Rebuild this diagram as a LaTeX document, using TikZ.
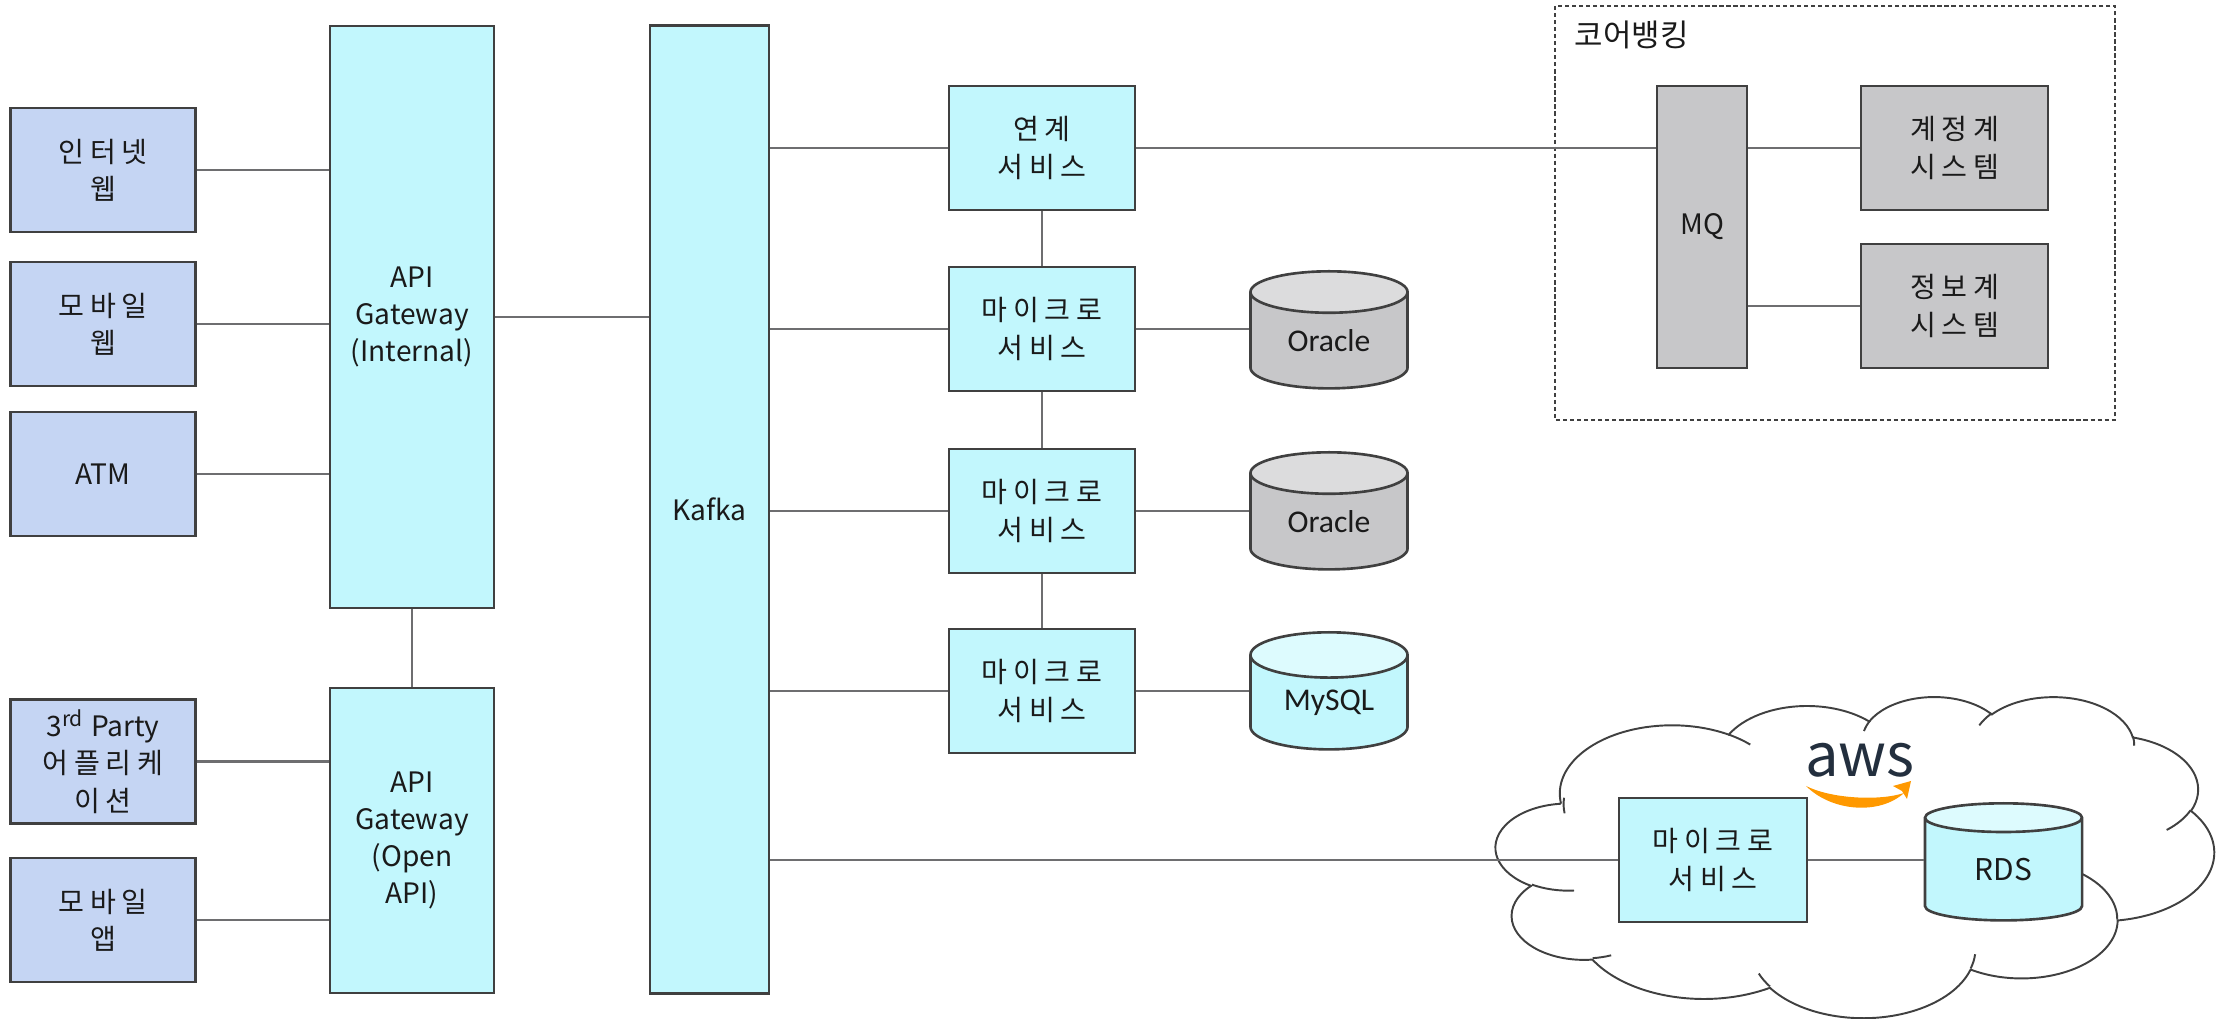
\documentclass[tikz,border=0pt]{standalone}
\usepackage{fontspec}
\setmainfont{Noto Sans CJK KR}
\newfontfamily\krfont{Noto Sans CJK KR}[LetterSpace=20]
\newfontfamily\dbfont{Carlito}
\usetikzlibrary{shapes.geometric}
\definecolor{boxline}{HTML}{404040}
\definecolor{linkgrey}{HTML}{6E6E70}
\definecolor{inkblack}{HTML}{1A1A1A}
\definecolor{clientblue}{HTML}{C5D5F3}
\definecolor{svccyan}{HTML}{C2F7FD}
\definecolor{svccyantop}{HTML}{DDFBFE}
\definecolor{coregrey}{HTML}{C7C7C9}
\definecolor{coregreytop}{HTML}{DCDCDD}
\definecolor{awsnavy}{HTML}{232F3E}
\definecolor{awsorange}{HTML}{FF9900}
\begin{document}
\begin{tikzpicture}[x=0.01cm, y=-0.01cm,
  box/.style={draw=boxline, line width=0.75pt, align=center, text=inkblack, inner sep=0pt, font=\krfont\fontsize{8}{10.6}\selectfont},
  latin/.style={font=\normalfont\fontsize{8}{10.6}\selectfont},
  client/.style={box, fill=clientblue, minimum width=1.85cm, minimum height=1.24cm},
  svc/.style={box, fill=svccyan, minimum width=1.86cm, minimum height=1.24cm},
  core/.style={box, fill=coregrey},
  db/.style={cylinder, shape border rotate=90, aspect=0.5, draw=boxline, line width=0.75pt, cylinder uses custom fill, minimum width=1.57cm, minimum height=1.17cm, inner sep=0pt, anchor=north, text=inkblack, font=\dbfont\fontsize{9}{10}\selectfont},
  dbgrey/.style={db, cylinder body fill=coregrey, cylinder end fill=coregreytop},
  dbcyan/.style={db, cylinder body fill=svccyan, cylinder end fill=svccyantop},
  link/.style={draw=linkgrey, line width=0.7pt},
  cloudline/.style={draw=boxline, line width=0.55pt}]
\useasboundingbox (0,0) rectangle (2221,1019);
\node[client] (webnet) at (103,170) {인터넷\\웹};
\node[client] (mobweb) at (103,324) {모바일\\웹};
\node[client, latin] (atm) at (103,474) {ATM};
\node[client, latin] (third) at (103,761.5) {3\textsuperscript{rd} Party\\{\krfont 어플리케}\\{\krfont 이션}};
\node[client] (mobapp) at (103,920) {모바일\\앱};
\node[svc, latin, minimum width=1.64cm, minimum height=5.82cm] (gwint) at (412,317) {API\\Gateway\\(Internal)};
\node[svc, latin, minimum width=1.64cm, minimum height=3.05cm] (gwopen) at (412,840.5) {API\\Gateway\\(Open\\API)};
\node[svc, latin, minimum width=1.19cm, minimum height=9.67cm] (kafka) at (709.5,509.5) {Kafka};
\node[svc] (yeon) at (1042,148) {연계\\서비스};
\node[svc] (ms1) at (1042,329) {마이크로\\서비스};
\node[svc] (ms2) at (1042,511) {마이크로\\서비스};
\node[svc] (ms3) at (1042,691) {마이크로\\서비스};
\node[dbgrey] (ora1) at (1329,270) {Oracle};
\node[dbgrey] (ora2) at (1329,451) {Oracle};
\node[dbcyan] (mysql) at (1329,631) {MySQL};
\draw[boxline, line width=0.6pt, dash pattern=on 1.2pt off 0.8pt] (1555,6) rectangle (2115,420);
\node[anchor=west, inner sep=0pt, text=inkblack, font=\fontsize{8.8}{10}\selectfont] (corelabel) at (1574,35) {코어뱅킹};
\node[core, latin, minimum width=0.90cm, minimum height=2.82cm] (mq) at (1702,227) {MQ};
\node[core, minimum width=1.87cm, minimum height=1.24cm] (acct) at (1954.5,148) {계정계\\시스템};
\node[core, minimum width=1.87cm, minimum height=1.24cm] (info) at (1954.5,306) {정보계\\시스템};
\begin{scope}[shift={(1496,696)}, xscale=0.1662, yscale=0.074306]
\draw[cloudline] (390,1437)
  arc[start angle=172.254, delta angle=128.11, x radius=675.3, y radius=919]
  arc[start angle=-152.019, delta angle=106.567, x radius=533.3, y radius=726.7]
  arc[start angle=-153.484, delta angle=116.174, x radius=436.5, y radius=594.5]
  arc[start angle=-139.706, delta angle=129.494, x radius=485.7, y radius=659.5]
  arc[start angle=-74.769, delta angle=97.979, x radius=533.3, y radius=727.3]
  arc[start angle=-37.518, delta angle=119.381, x radius=677.5, y radius=922]
  arc[start angle=0.46, delta angle=121.518, x radius=578.5, y radius=786.7]
  arc[start angle=16.845, delta angle=129.391, x radius=675.2, y radius=921.5]
  arc[start angle=58.986, delta angle=91.213, x radius=772, y radius=1054.3]
  arc[start angle=83.306, delta angle=139.805, x radius=436, y radius=591.8]
  arc[start angle=120.354, delta angle=143.758, x radius=434.5, y radius=594.5] -- cycle;
\foreach \px/\py/\sa/\da/\rx/\ry in {469.3/2617.7/85.546/34.808/434.5/594.5,
    692.8/3489.9/68.238/15.068/436/591.8, 1647.8/3909/146.236/12.237/675.2/921.5,
    2882.7/3475.1/4.738/12.107/675.2/921.5, 3412.9/2295.4/-64.024/64.484/578.5/786.7,
    4179.8/1535.4/23.21/26.425/533.3/727.3, 3832.4/542.6/-10.212/11.033/485.7/659.5,
    2907.8/395.2/-156.282/16.576/485.7/659.5, 2214.1/472/-167.726/14.242/436.5/594.5,
    1400/519.2/-59.637/13.892/675.3/919, 412.7/1578.9/172.254/13.1/675.3/919}
  \draw[cloudline] (\px,\py) arc[start angle=\sa, delta angle=\da, x radius=\rx, y radius=\ry];
\end{scope}
\node[svc, minimum width=1.88cm] (awsms) at (1713,860) {마이크로\\서비스};
\node[dbcyan, font=\normalfont\fontsize{8.5}{10}\selectfont] (rds) at (2003.5,802) {RDS};
\node[inner sep=0pt, text=awsnavy, font=\fontsize{17}{17}\selectfont] (awslogo) at (1860,760) {aws};
\fill[awsorange] (1806,786) .. controls (1832,812) and (1880,815) .. (1904,793) .. controls (1880,801) and (1832,799) .. (1806,786) -- cycle;
\fill[awsorange] (1893,786) -- (1911,781) -- (1907,799) -- (1902,791) -- cycle;
\foreach \n in {webnet,mobweb,atm} \draw[link] (\n.east) -- (\n.east -| gwint.west);
\foreach \n in {third,mobapp} \draw[link] (\n.east) -- (\n.east -| gwopen.west);
\draw[link] (gwint) -- (gwopen);
\draw[link] (gwint.east) -- (gwint.east -| kafka.west);
\foreach \n in {yeon,ms1,ms2,ms3,awsms} \draw[link] (kafka.east |- \n.west) -- (\n.west);
\draw[link] (yeon) -- (ms1);
\draw[link] (ms1) -- (ms2);
\draw[link] (ms2) -- (ms3);
\draw[link] (ms1.east) -- (ms1.east -| ora1.west);
\draw[link] (ms2.east) -- (ms2.east -| ora2.west);
\draw[link] (ms3.east) -- (ms3.east -| mysql.west);
\draw[link] (yeon.east) -- (yeon.east -| mq.west);
\draw[link] (mq.east |- acct.west) -- (acct.west);
\draw[link] (mq.east |- info.west) -- (info.west);
\draw[link] (awsms.east) -- (awsms.east -| rds.west);
\end{tikzpicture}
\end{document}
